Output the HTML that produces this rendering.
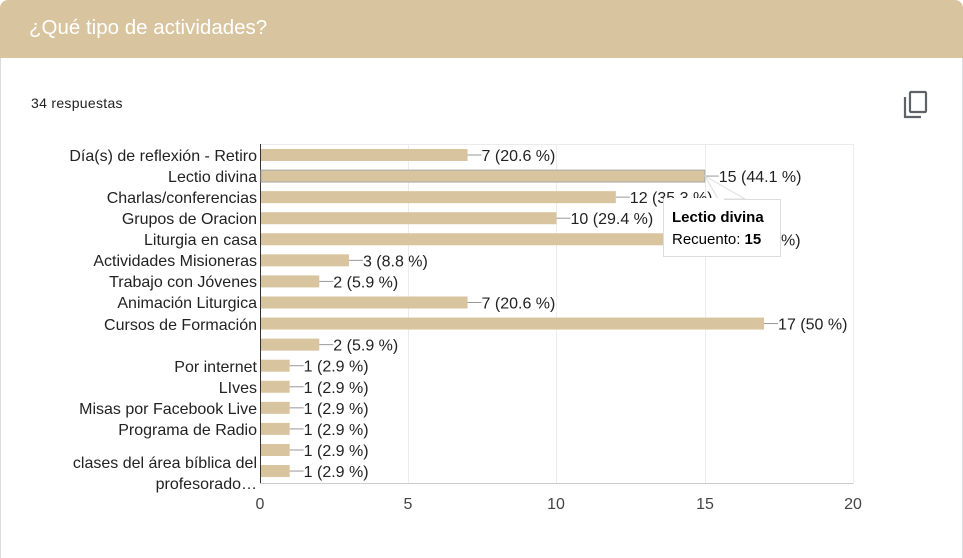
<!DOCTYPE html>
<html><head><meta charset="utf-8"><style>
body{margin:0;width:963px;height:553px;background:#fff;overflow:hidden;font-family:"Liberation Sans",Arial,sans-serif;}
.hdr{position:absolute;left:0;top:0;width:963px;height:58px;background:#d8c49e;border-radius:8px 8px 0 0;}
.hdr span{position:absolute;left:29px;top:16px;font-size:20.5px;color:#fff;}
.card{position:absolute;left:0;top:58px;width:961px;height:500px;border-left:1px solid #dadce0;border-right:1px solid #dadce0;}
.resp{position:absolute;left:31px;top:95px;font-size:14px;color:#202124;letter-spacing:0.3px;}
</style></head><body>
<div class="hdr"><span>¿Qué tipo de actividades?</span></div>
<div class="card"></div>
<div class="resp">34 respuestas</div>
<svg style="position:absolute;left:903px;top:90px" width="26" height="30" viewBox="0 0 26 30">
<rect x="7" y="2" width="16" height="20" rx="1" fill="none" stroke="#5f6368" stroke-width="2.2"/>
<path d="M2 7 V27 H18" fill="none" stroke="#5f6368" stroke-width="2.2"/>
</svg>
<svg style="position:absolute;left:0;top:0" width="963" height="553" font-family="Liberation Sans, Arial, sans-serif" font-size="16">
<g stroke="#ebebeb" stroke-width="1">
<line x1="408.5" y1="144" x2="408.5" y2="484"/><line x1="556.5" y1="144" x2="556.5" y2="484"/><line x1="705.5" y1="144" x2="705.5" y2="484"/><line x1="853.5" y1="144" x2="853.5" y2="484"/>
<line x1="260" y1="144.5" x2="853" y2="144.5"/>
</g>
<line x1="260.5" y1="144" x2="260.5" y2="484" stroke="#333"/>
<line x1="260" y1="483.5" x2="853" y2="483.5" stroke="#ccc"/>
<g id="bars"></g>
<g fill="#222" text-anchor="end">
<text x="257" y="161">Día(s) de reflexión - Retiro</text>
<text x="257" y="182">Lectio divina</text>
<text x="257" y="203">Charlas/conferencias</text>
<text x="257" y="224">Grupos de Oracion</text>
<text x="257" y="245">Liturgia en casa</text>
<text x="257" y="266">Actividades Misioneras</text>
<text x="257" y="287">Trabajo con Jóvenes</text>
<text x="257" y="308">Animación Liturgica</text>
<text x="257" y="330">Cursos de Formación</text>
<text x="257" y="372">Por internet</text>
<text x="257" y="393">LIves</text>
<text x="257" y="414">Misas por Facebook Live</text>
<text x="257" y="435">Programa de Radio</text>
<text x="257" y="468">clases del área bíblica del</text>
<text x="257" y="489">profesorado…</text>
</g>
<g fill="#444" text-anchor="middle">
<text x="260" y="509">0</text><text x="408" y="509">5</text><text x="556" y="509">10</text><text x="705" y="509">15</text><text x="853" y="509">20</text>
</g>
<g id="lbl" fill="#222"></g>
<g>
<path d="M705 176 L745 199 L718 199 Z" fill="#fff" stroke="#ddd"/>
<rect x="663.5" y="199.5" width="117" height="57" fill="#fff" stroke="#ddd"/>
<rect x="664" y="198" width="60" height="3" fill="#fff"/>
<text x="672" y="222" font-weight="bold" fill="#000" font-size="15">Lectio divina</text>
<text x="672" y="244" fill="#000" font-size="15">Recuento: <tspan font-weight="bold">15</tspan></text>
</g>
</svg>
<script>
var v=[7,15,12,10,15,3,2,7,17,2,1,1,1,1,1,1];
var p=["20.6","44.1","35.3","29.4","44.1","8.8","5.9","20.6","50","5.9","2.9","2.9","2.9","2.9","2.9","2.9"];
var b=document.getElementById("bars"),l=document.getElementById("lbl"),s="",t="";
for(var i=0;i<16;i++){var y=155+i*21.07,w=v[i]*29.65,x=260+w;
s+='<rect x="261" y="'+(y-6)+'" width="'+(w-1)+'" height="12" fill="#d8c49e"'+(i==1?' stroke="#aaa"':'')+'/>';
s+='<line x1="'+x+'" y1="'+y+'" x2="'+(x+14)+'" y2="'+y+'" stroke="#999"/>';
if(i!=4)t+='<text x="'+(x+14)+'" y="'+(y+6)+'">'+v[i]+' ('+p[i]+' %)</text>';else t+='<text x="781" y="'+(y+6)+'">%)</text>';}
b.innerHTML=s;l.innerHTML=t;
</script>
</body></html>
